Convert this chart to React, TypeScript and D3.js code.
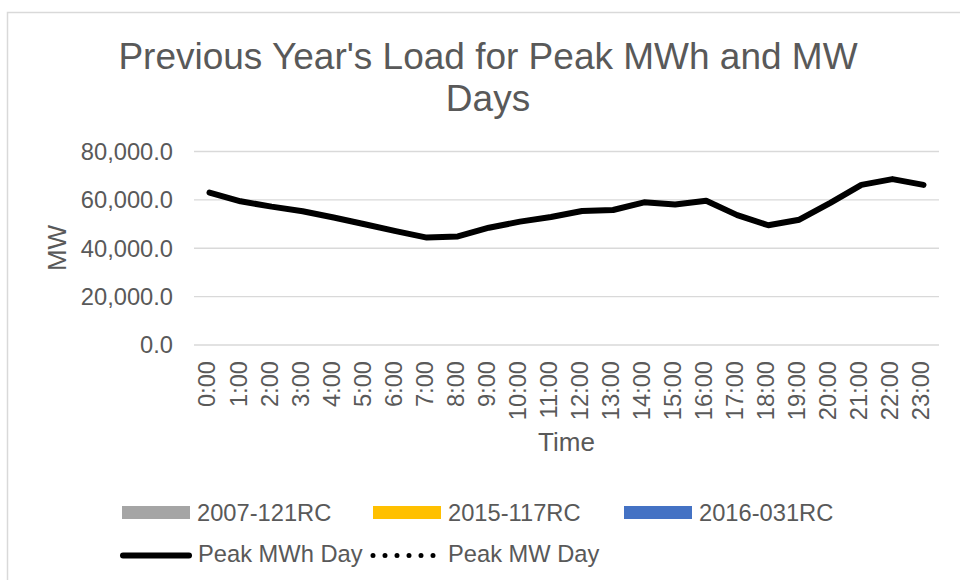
import React from 'react';
import * as d3 from 'd3';

const width = 960;
const height = 580;

const hours = ['0:00', '1:00', '2:00', '3:00', '4:00', '5:00', '6:00', '7:00', '8:00', '9:00', '10:00', '11:00',
  '12:00', '13:00', '14:00', '15:00', '16:00', '17:00', '18:00', '19:00', '20:00', '21:00', '22:00', '23:00'];
const peakMWh = [63000, 59400, 57200, 55300, 52700, 49900, 47100, 44400, 44900, 48500, 51000, 52900,
  55400, 55800, 59000, 58100, 59600, 53700, 49500, 51800, 58800, 66200, 68600, 66200];
const yTicks = [0, 20000, 40000, 60000, 80000];

const barSeries = ['2007-121RC', '2015-117RC', '2016-031RC'];
const barColors = ['#a5a5a5', '#ffc000', '#4472c4'];
const lineSeries = ['Peak MWh Day', 'Peak MW Day'];

const font = 'Arial, "Liberation Sans", sans-serif';
const textColor = '#595959';
const gridColor = '#d9d9d9';
const small = 23.7;

const left = 194;
const right = 939;
const top = 151.5;
const bottom = 345;

const x = d3.scaleBand<string>().domain(hours).range([left, right]);
const y = d3.scaleLinear().domain([0, 80000]).range([bottom, top]);
const fmt = d3.format(',.1f');

const line = d3.line<number>()
  .x((d, i) => (x(hours[i]) as number) + x.bandwidth() / 2)
  .y(d => y(d));

const barLegendX = [122, 373, 624];

const App = () => {
  return (
    <svg width={width} height={height} style={{ position: 'absolute', left: 0, top: 0 }} fontFamily={font}>
      <rect x={0} y={0} width={width} height={height} fill="white" />
      <rect x={7.5} y={12.5} width={1000} height={700} fill="white" stroke={gridColor} strokeWidth={1.5} />

      <text x={488} y={69} textAnchor="middle" fontSize={37} fill={textColor}>
        Previous Year's Load for Peak MWh and MW
      </text>
      <text x={488} y={111} textAnchor="middle" fontSize={37} fill={textColor}>Days</text>

      {yTicks.map(t => (
        <g key={t}>
          <line x1={left} x2={right} y1={y(t)} y2={y(t)} stroke={gridColor} strokeWidth={1.3} />
          <text x={173} y={y(t)} dy="0.35em" textAnchor="end" fontSize={small} fill={textColor}>{fmt(t)}</text>
        </g>
      ))}

      {hours.map(h => {
        const cx = (x(h) as number) + x.bandwidth() / 2;
        return (
          <text key={h} transform={`translate(${cx},361) rotate(-90)`} dy="0.25em" textAnchor="end"
            fontSize={small} fill={textColor}>{h}</text>
        );
      })}

      <text transform="translate(66,248) rotate(-90)" textAnchor="middle" fontSize={26} fill={textColor}>MW</text>
      <text x={(left + right) / 2} y={451} textAnchor="middle" fontSize={26} fill={textColor}>Time</text>

      <path d={line(peakMWh) || ''} fill="none" stroke="black" strokeWidth={6} strokeLinejoin="round" strokeLinecap="round" />

      {barSeries.map((s, i) => (
        <g key={s}>
          <rect x={barLegendX[i]} y={506} width={68} height={13} fill={barColors[i]} />
          <text x={barLegendX[i] + 75} y={521} fontSize={small} fill={textColor}>{s}</text>
        </g>
      ))}

      <line x1={123} x2={189} y1={555.5} y2={555.5} stroke="black" strokeWidth={6} strokeLinecap="round" />
      <text x={198} y={562} fontSize={small} fill={textColor}>{lineSeries[0]}</text>
      <line x1={373} x2={436} y1={555.5} y2={555.5} stroke="black" strokeWidth={5} strokeLinecap="round" strokeDasharray="0 12" />
      <text x={448} y={562} fontSize={small} fill={textColor}>{lineSeries[1]}</text>
    </svg>
  );
};

export default App;
